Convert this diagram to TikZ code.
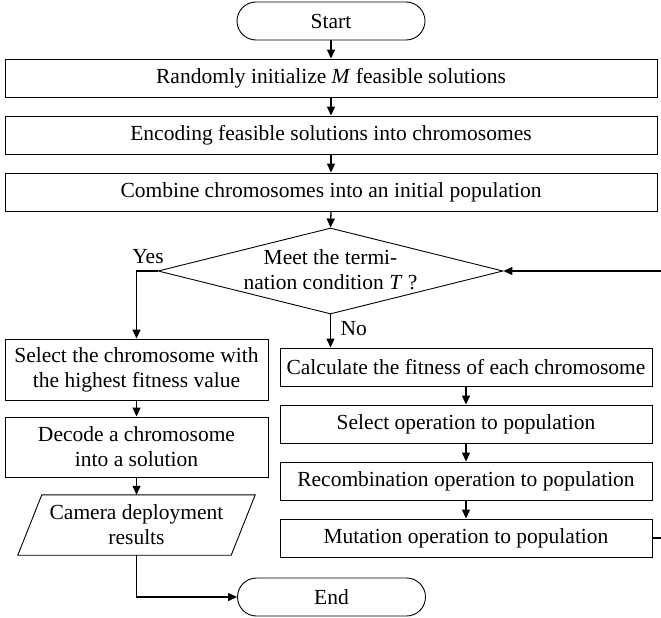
\documentclass[tikz,border=0pt]{standalone}
\usepackage{fontspec}
\setmainfont{Liberation Serif}
\usetikzlibrary{arrows.meta,shapes.geometric}
\begin{document}
\begin{tikzpicture}[x=1pt,y=-1pt,
  font=\fontsize{21.5}{25}\selectfont,
  box/.style={draw, line width=0.9pt, rectangle, inner sep=0pt, align=center, minimum height=38pt},
  term/.style={draw, line width=0.9pt, rectangle, rounded corners=19pt, minimum width=188pt, minimum height=38pt, inner sep=0pt},
  arr/.style={line width=1.3pt, -{Triangle[length=9pt,width=8pt]}}]
\useasboundingbox (0,0) rectangle (661,618);
\node[term] (start) at (331,21) {Start};
\node[box, minimum width=652pt] (init) at (331,78) {Randomly initialize \textit{M} feasible solutions};
\node[box, minimum width=652pt] (enc) at (331,135) {Encoding feasible solutions into chromosomes};
\node[box, minimum width=652pt] (comb) at (331,192) {Combine chromosomes into an initial population};
\node[diamond, draw, line width=0.9pt, minimum width=345pt, minimum height=86pt, inner sep=0pt] (cond) at (330.5,271) {};
\node[align=center] (condtext) at (330.5,270) {Meet the termi-\\nation condition \textit{T} ?};
\node (yes) at (148,257) {Yes};
\node[anchor=west] (no) at (337,329) {No};
\node[box, minimum width=263pt, minimum height=61pt] (sel) at (136.5,369.5) {Select the chromosome with\\the highest fitness value};
\node[box, minimum width=263pt, minimum height=60pt] (dec) at (136.5,447) {Decode a chromosome\\into a solution};
\node[minimum width=237pt, minimum height=60pt, inner sep=0pt, align=center] (cam) at (136.5,525) {Camera deployment\\results};
\draw[line width=0.9pt] ([xshift=24pt]cam.north west) -- (cam.north east) -- ([xshift=-24pt]cam.south east) -- (cam.south west) -- cycle;
\node[term] (end) at (331.5,597) {End};
\node[box, minimum width=372pt] (calc) at (466,367) {Calculate the fitness of each chromosome};
\node[box, minimum width=372pt] (selop) at (466,424) {Select operation to population};
\node[box, minimum width=372pt] (recomb) at (466,481) {Recombination operation to population};
\node[box, minimum width=372pt] (mut) at (466,538) {Mutation operation to population};
\coordinate (fb) at (662,538);
\draw[arr] (start) -- (init);
\draw[arr] (init) -- (enc);
\draw[arr] (enc) -- (comb);
\draw[arr] (comb.south) -- (cond.north);
\draw[arr] (cond.west) -| (sel.north);
\draw[arr] (cond.south) -- (cond.south |- calc.north);
\draw[arr] (sel) -- (dec);
\draw[arr] (dec.south) -- (cam.north);
\draw[arr] (cam.south) |- (end.west);
\draw[arr] (calc) -- (selop);
\draw[arr] (selop) -- (recomb);
\draw[arr] (recomb) -- (mut);
\draw[arr] (mut.east) -- (fb) |- (cond.east);
\end{tikzpicture}
\end{document}
